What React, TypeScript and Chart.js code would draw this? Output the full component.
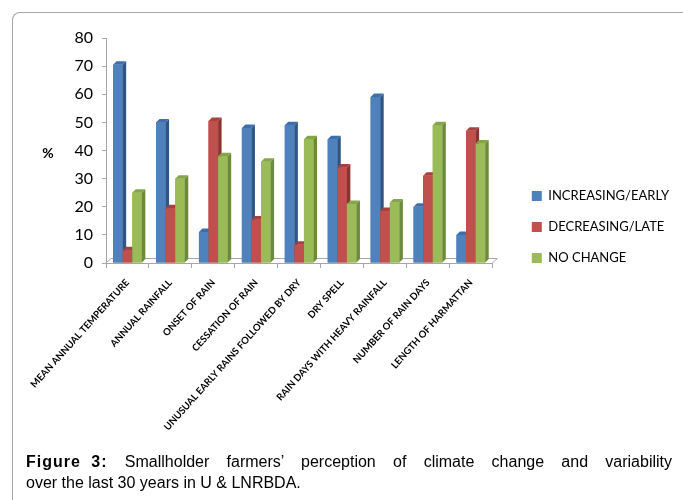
import React, { useEffect, useRef } from "react";
import { Chart, registerables } from "chart.js";

Chart.register(...registerables);

const categories = [
  "MEAN ANNUAL TEMPERATURE",
  "ANNUAL RAINFALL",
  "ONSET OF RAIN",
  "CESSATION OF RAIN",
  "UNUSUAL EARLY RAINS FOLLOWED BY DRY",
  "DRY SPELL",
  "RAIN DAYS WITH HEAVY RAINFALL",
  "NUMBER OF RAIN DAYS",
  "LENGTH OF HARMATTAN",
];
const seriesNames = ["INCREASING/EARLY", "DECREASING/LATE", "NO CHANGE"];
const increasingEarly = [70.5, 50, 11, 48, 49, 44, 59, 20, 10];
const decreasingLate = [4.5, 19.5, 50.5, 15.5, 6.5, 34, 18.5, 31, 47];
const noChange = [25, 30, 38, 36, 44, 21, 21.5, 49, 42.5];
const yMin = 0;
const yMax = 80;
const yStep = 10;

const frontColors = ["#4F81BD", "#C0504D", "#9BBB59"];
const sideColors = ["#2F5584", "#8A3432", "#6B8A3A"];
const topColors = ["#3E6FAD", "#A9403D", "#84A64A"];
const axisColor = "#a6a6a6";
const DX = 3.5;
const DY = 3.5;

const depthPlugin = {
  id: "depth3d",
  beforeDatasetsDraw(chart: any) {
    const { ctx, chartArea } = chart;
    const base = chart.scales.y.getPixelForValue(0);
    ctx.save();
    ctx.strokeStyle = axisColor;
    ctx.lineWidth = 1;
    ctx.beginPath();
    ctx.moveTo(chartArea.left, base);
    ctx.lineTo(chartArea.left + 5, base - 4.5);
    ctx.lineTo(chartArea.right + 5, base - 4.5);
    ctx.lineTo(chartArea.right, base);
    ctx.stroke();
    ctx.restore();
  },
  afterDatasetsDraw(chart: any) {
    const ctx = chart.ctx;
    const n = chart.data.labels.length;
    const metas = chart.data.datasets.map((_: any, i: number) => chart.getDatasetMeta(i));
    ctx.save();
    for (let j = 0; j < n; j++) {
      for (let i = 0; i < metas.length; i++) {
        const el = metas[i].data[j];
        if (!el) continue;
        const { x, y, base, width } = el.getProps(["x", "y", "base", "width"], true);
        const left = x - width / 2;
        const right = x + width / 2;
        ctx.fillStyle = frontColors[i];
        ctx.fillRect(left, y, width, base - y);
        ctx.fillStyle = sideColors[i];
        ctx.beginPath();
        ctx.moveTo(right, y);
        ctx.lineTo(right + DX, y - DY);
        ctx.lineTo(right + DX, base - DY);
        ctx.lineTo(right, base);
        ctx.closePath();
        ctx.fill();
        ctx.fillStyle = topColors[i];
        ctx.beginPath();
        ctx.moveTo(left, y);
        ctx.lineTo(left + DX, y - DY);
        ctx.lineTo(right + DX, y - DY);
        ctx.lineTo(right, y);
        ctx.closePath();
        ctx.fill();
      }
    }
    ctx.restore();
  },
};

const percentPlugin = {
  id: "percentLabel",
  afterDraw(chart: any) {
    const { ctx, chartArea } = chart;
    ctx.save();
    ctx.font = "bold 14px Lato";
    ctx.fillStyle = "#000";
    ctx.textAlign = "center";
    ctx.textBaseline = "middle";
    ctx.fillText("%", 36, (chartArea.top + chartArea.bottom) / 2 + 3);
    ctx.restore();
  },
};

export default function App() {
  const ref = useRef<HTMLCanvasElement | null>(null);

  useEffect(() => {
    if (!ref.current) return;
    const series = [increasingEarly, decreasingLate, noChange];
    const chart = new Chart(ref.current, {
      type: "bar",
      data: {
        labels: categories,
        datasets: series.map((d, i) => ({
          label: seriesNames[i],
          data: d,
          backgroundColor: frontColors[i],
          borderWidth: 0,
          categoryPercentage: 0.67,
          barPercentage: 1.0,
        })),
      },
      options: {
        animation: false,
        responsive: false,
        layout: { padding: { left: 34, top: 26, right: 0, bottom: 0 } },
        plugins: {
          legend: {
            position: "right",
            align: "start",
            maxWidth: 300,
            title: {
              display: true,
              text: "",
              font: { size: 10 },
              padding: { top: 121.5, bottom: 0 },
            },
            labels: {
              boxWidth: 10,
              boxHeight: 10,
              padding: 18,
              color: "#000",
              font: { family: "Lato", size: 13 },
            },
          },
          tooltip: { enabled: false },
        },
        scales: {
          x: {
            grid: {
              display: true,
              drawOnChartArea: false,
              offset: true,
              tickLength: 5,
              color: axisColor,
            },
            border: { color: axisColor },
            ticks: {
              autoSkip: false,
              maxRotation: 48,
              minRotation: 48,
              padding: 9,
              color: "#000",
              font: { family: "Lato", size: 9.6, weight: "bold" },
            },
            afterFit: (s: any) => {
              s.height = 189;
            },
          },
          y: {
            min: yMin,
            max: yMax,
            ticks: {
              stepSize: yStep,
              padding: 9,
              color: "#000",
              font: { family: "Lato", size: 16 },
            },
            grid: { drawOnChartArea: false, tickLength: 4, color: axisColor },
            border: { color: axisColor },
            afterFit: (s: any) => {
              s.width = 60;
            },
          },
          yr: {
            position: "right",
            display: true,
            grid: { display: false },
            ticks: { display: false },
            border: { display: false },
            afterFit: (s: any) => {
              s.width = 21.5;
            },
          },
        },
      } as any,
      plugins: [depthPlugin, percentPlugin],
    });
    return () => chart.destroy();
  }, []);

  return (
    <div style={{ position: "absolute", left: 0, top: 0, width: 683, height: 500, background: "#fff", overflow: "hidden" }}>
      <div
        style={{
          position: "absolute",
          left: 12,
          top: 12,
          width: 680,
          height: 500,
          borderTop: `1px solid ${axisColor}`,
          borderLeft: `1px solid ${axisColor}`,
          borderTopLeftRadius: 8,
        }}
      />
      <canvas ref={ref} width={667} height={440} style={{ position: "absolute", left: 12, top: 12, width: 667, height: 440 }} />
      <div
        style={{
          position: "absolute",
          left: 26,
          top: 451,
          width: 646,
          fontFamily: '"Liberation Sans", Arial, sans-serif',
          fontSize: 16,
          lineHeight: "21px",
          color: "#000",
        }}
      >
        <div style={{ textAlign: "justify", textAlignLast: "justify" as any }}>
          <b style={{ display: "inline-block", letterSpacing: "1px", wordSpacing: "5px" }}>Figure 3:</b> Smallholder farmers’ perception of climate change and variability
        </div>
        <div>over the last 30 years in U &amp; LNRBDA.</div>
      </div>
    </div>
  );
}
